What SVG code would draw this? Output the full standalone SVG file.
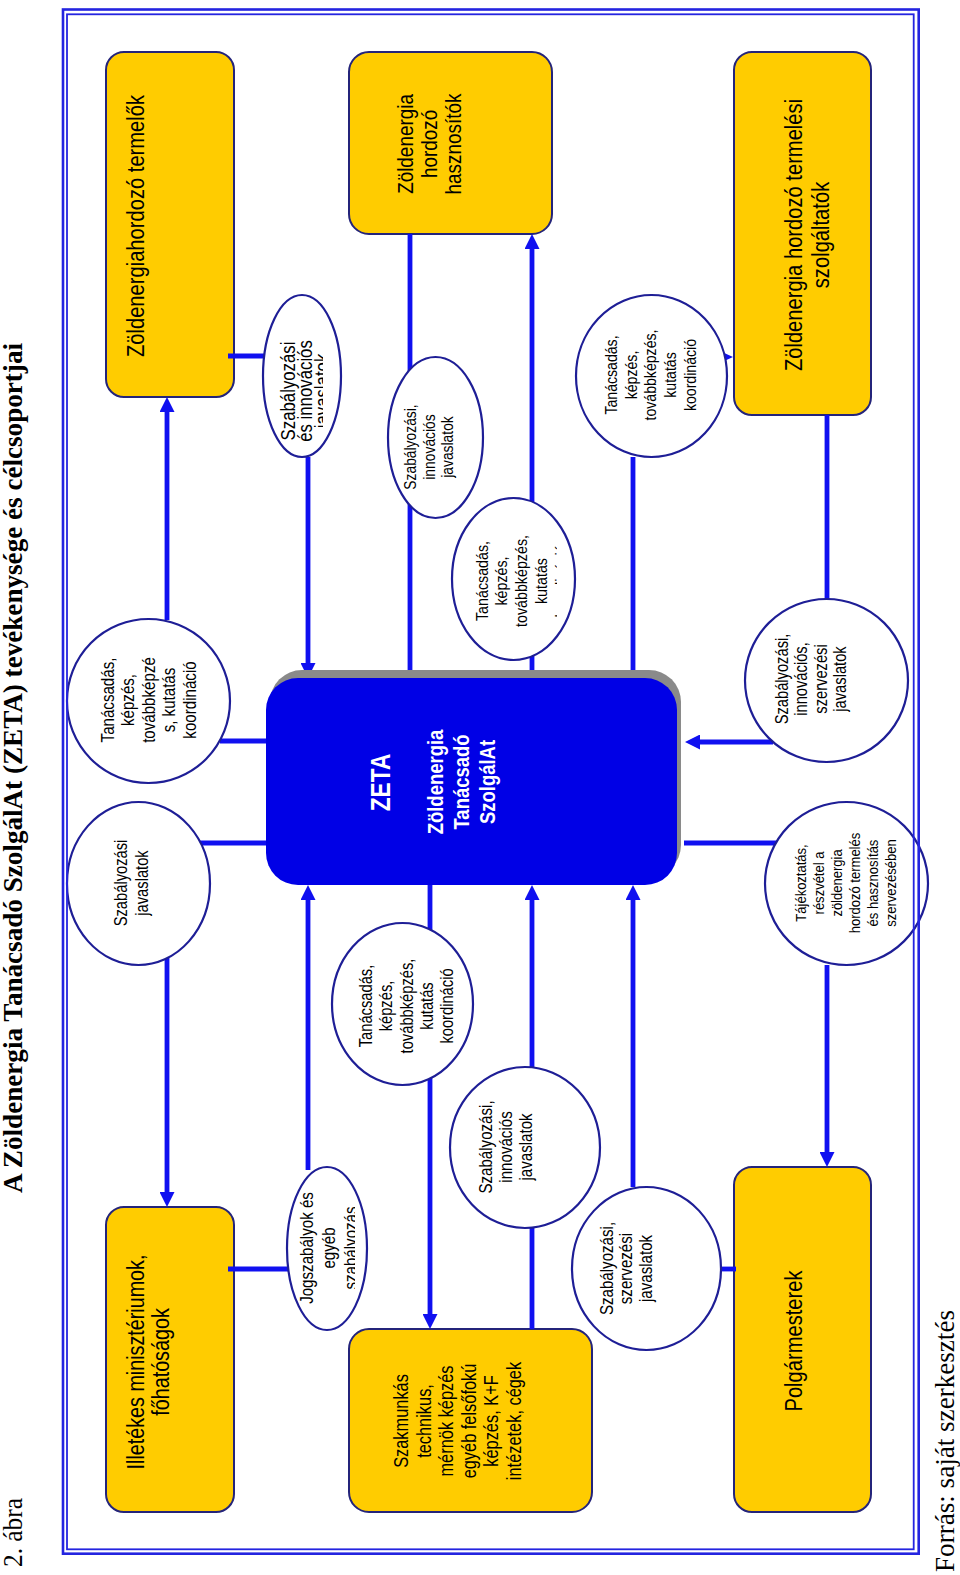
<svg xmlns="http://www.w3.org/2000/svg" width="960" height="1575" viewBox="0 0 960 1575">
<style>
.box{fill:#FFCC00;stroke:#24247A;stroke-width:2}
.ell{fill:#FFFFFF;stroke:#1E1E96;stroke-width:2.2}
.ln{stroke:#1010F0;stroke-width:4.8;fill:none}
.arr{marker-end:url(#ah)}
.t{font-family:"Liberation Sans",Arial,sans-serif;fill:#000;text-anchor:middle}
.tw{font-family:"Liberation Sans",Arial,sans-serif;fill:#FFFFFF;font-weight:bold;text-anchor:middle}
.ser{font-family:"Liberation Serif","Times New Roman",serif;fill:#000}
.frame{fill:none;stroke:#2424E0}
</style>
<defs>
<marker id="ah" markerUnits="userSpaceOnUse" markerWidth="15" markerHeight="15" viewBox="0 0 15 15" refX="0" refY="7.5" orient="auto">
<path d="M0,0 L15,7.5 L0,15 z" fill="#1010F0"/>
</marker>
<clipPath id="cE1"><rect x="0" y="280" width="323" height="200"/></clipPath>
<clipPath id="cE4"><rect x="0" y="1150" width="355" height="200"/></clipPath>
<clipPath id="cE12"><rect x="0" y="480" width="557" height="200"/></clipPath>
</defs>
<rect width="960" height="1575" fill="#FFFFFF"/>

<!-- titles -->
<text class="ser" font-size="28" transform="translate(22,1567) rotate(-90)" textLength="69" lengthAdjust="spacingAndGlyphs">2. ábra</text>
<text class="ser" font-size="27.5" font-weight="bold" transform="translate(22,1193) rotate(-90)" textLength="850" lengthAdjust="spacingAndGlyphs">A Zöldenergia Tanácsadó SzolgálAt (ZETA) tevékenysége és célcsoportjai</text>
<text class="ser" font-size="28" transform="translate(954,1572) rotate(-90)" textLength="262" lengthAdjust="spacingAndGlyphs">Forrás: saját szerkesztés</text>

<!-- yellow boxes -->
<g id="box-termelok">
<rect class="box" x="106" y="52" width="128" height="345" rx="18"/>
<g transform="translate(0,226) rotate(-90) scale(0.84,1)"><text class="t" font-size="24"><tspan x="0" y="144">Zöldenergiahordozó termelők</tspan></text></g>
</g>
<g id="box-hasznositok">
<rect class="box" x="349" y="52" width="203" height="182" rx="20"/>
<g transform="translate(0,144) rotate(-90) scale(0.84,1)"><text class="t" font-size="22.5"><tspan x="0" y="413">Zöldenergia</tspan><tspan x="0" y="437">hordozó</tspan><tspan x="0" y="461">hasznosítók</tspan></text></g>
</g>
<g id="box-szolgaltatok">
<rect class="box" x="734" y="52" width="137" height="363" rx="18"/>
<g transform="translate(0,235) rotate(-90) scale(0.84,1)"><text class="t" font-size="24"><tspan x="0" y="802">Zöldenergia hordozó termelési</tspan><tspan x="0" y="829">szolgáltatók</tspan></text></g>
</g>
<g id="box-miniszteriumok">
<rect class="box" x="106" y="1207" width="128" height="305" rx="18"/>
<g transform="translate(0,1362) rotate(-90) scale(0.84,1)"><text class="t" font-size="23.5"><tspan x="0" y="144">Illetékes minisztériumok,</tspan><tspan x="0" y="169">főhatóságok</tspan></text></g>
</g>
<g id="box-kepzes">
<rect class="box" x="349" y="1329" width="243" height="183" rx="20"/>
<g transform="translate(0,1421) rotate(-90) scale(0.84,1)"><text class="t" font-size="19.5"><tspan x="0" y="408">Szakmunkás</tspan><tspan x="0" y="430.6">technikus,</tspan><tspan x="0" y="453.2">mérnök képzés</tspan><tspan x="0" y="475.8">egyéb felsőfokú</tspan><tspan x="0" y="498.4">képzés, K+F</tspan><tspan x="0" y="521">intézetek, cégek</tspan></text></g>
</g>
<g id="box-polgarmesterek">
<rect class="box" x="734" y="1167" width="137" height="345" rx="18"/>
<g transform="translate(0,1341) rotate(-90) scale(0.84,1)"><text class="t" font-size="24"><tspan x="0" y="802">Polgármesterek</tspan></text></g>
</g>

<!-- connectors -->
<g id="connectors">
<path class="ln" d="M228,356 L264,356"/>
<path class="ln arr" d="M308,457 L308,663"/>
<path class="ln arr" d="M167,620 L167,412"/>
<path class="ln" d="M220,741 L266,741"/>
<path class="ln" d="M200,843 L266,843"/>
<path class="ln arr" d="M167,958 L167,1192"/>
<path class="ln" d="M228,1269 L288,1269"/>
<path class="ln arr" d="M308,1170 L308,900"/>
<path class="ln arr" d="M430,885 L430,1314"/>
<path class="ln arr" d="M532,1329 L532,900"/>
<path class="ln arr" d="M633,1187 L633,900"/>
<path class="ln" d="M720,1269 L736,1269"/>
<path class="ln" d="M684,843 L778,843"/>
<path class="ln arr" d="M827,965 L827,1152"/>
<path class="ln arr" d="M773,742 L700,742"/>
<path class="ln" d="M827,415 L827,600"/>
<path class="ln" d="M633,457 L633,678"/>
<path class="ln" d="M410,234 L410,678"/>
<path class="ln arr" d="M532,678 L532,249"/>
<polygon points="721,351.5 733,357 721,362.5" fill="#1010F0"/>
</g>

<!-- ZETA -->
<g id="zeta">
<rect x="270" y="670" width="411" height="207" rx="32" fill="#8A8A8A"/>
<rect x="266" y="678" width="411" height="207" rx="32" fill="#0000E6"/>
<g transform="translate(0,782.5) rotate(-90) scale(0.84,1)"><text class="tw" font-size="27"><tspan x="0" y="390">ZETA</tspan></text></g>
<g transform="translate(0,782) rotate(-90) scale(0.84,1)"><text class="tw" font-size="22"><tspan x="0" y="443">Zöldenergia</tspan><tspan x="0" y="469">Tanácsadó</tspan><tspan x="0" y="495">SzolgálAt</tspan></text></g>
</g>

<!-- ellipses -->
<g id="e1">
<ellipse class="ell" cx="302" cy="376" rx="39" ry="81"/>
<g clip-path="url(#cE1)"><g transform="translate(0,391) rotate(-90) scale(0.84,1)"><text class="t" font-size="20"><tspan x="0" y="295">Szabályozási</tspan><tspan x="0" y="312">és innovációs</tspan><tspan x="0" y="329">javaslatok</tspan></text></g></g>
</g>
<g id="e2">
<ellipse class="ell" cx="148.5" cy="701" rx="81.5" ry="82"/>
<g transform="translate(0,700) rotate(-90) scale(0.84,1)"><text class="t" font-size="18"><tspan x="0" y="114">Tanácsadás,</tspan><tspan x="0" y="134.5">képzés,</tspan><tspan x="0" y="155">továbbképzé</tspan><tspan x="0" y="175.5">s, kutatás</tspan><tspan x="0" y="196">koordináció</tspan></text></g>
</g>
<g id="e3">
<ellipse class="ell" cx="138.5" cy="883.5" rx="71.5" ry="81.5"/>
<g transform="translate(0,883) rotate(-90) scale(0.84,1)"><text class="t" font-size="17.5"><tspan x="0" y="127">Szabályozási</tspan><tspan x="0" y="148">javaslatok</tspan></text></g>
</g>
<g id="e4">
<ellipse class="ell" cx="327" cy="1248.5" rx="40" ry="81.5"/>
<g clip-path="url(#cE4)"><g transform="translate(0,1248) rotate(-90) scale(0.84,1)"><text class="t" font-size="18"><tspan x="0" y="313">Jogszabályok és</tspan><tspan x="0" y="335">egyéb</tspan><tspan x="0" y="357">szabályozás</tspan></text></g></g>
</g>
<g id="e5">
<ellipse class="ell" cx="402.5" cy="1004" rx="70.5" ry="81"/>
<g transform="translate(0,1006) rotate(-90) scale(0.84,1)"><text class="t" font-size="17.5"><tspan x="0" y="372">Tanácsadás,</tspan><tspan x="0" y="392.3">képzés,</tspan><tspan x="0" y="412.6">továbbképzés,</tspan><tspan x="0" y="432.9">kutatás</tspan><tspan x="0" y="453.2">koordináció</tspan></text></g>
</g>
<g id="e6">
<ellipse class="ell" cx="525" cy="1147.5" rx="75" ry="80.5"/>
<g transform="translate(0,1147) rotate(-90) scale(0.84,1)"><text class="t" font-size="18"><tspan x="0" y="492">Szabályozási,</tspan><tspan x="0" y="512">innovációs</tspan><tspan x="0" y="532">javaslatok</tspan></text></g>
</g>
<g id="e7">
<ellipse class="ell" cx="646.5" cy="1268.5" rx="74.5" ry="81.5"/>
<g transform="translate(0,1268.5) rotate(-90) scale(0.84,1)"><text class="t" font-size="18"><tspan x="0" y="613">Szabályozási,</tspan><tspan x="0" y="632.5">szervezési</tspan><tspan x="0" y="652">javaslatok</tspan></text></g>
</g>
<g id="e8">
<ellipse class="ell" cx="846.5" cy="883.5" rx="81.5" ry="81.5"/>
<g transform="translate(0,883) rotate(-90) scale(0.84,1)"><text class="t" font-size="15.5"><tspan x="0" y="806">Tájékoztatás,</tspan><tspan x="0" y="824">részvétel a</tspan><tspan x="0" y="842">zöldenergia</tspan><tspan x="0" y="860">hordozó termelés</tspan><tspan x="0" y="878">és hasznosítás</tspan><tspan x="0" y="896">szervezésében</tspan></text></g>
</g>
<g id="e9">
<ellipse class="ell" cx="826.5" cy="680.5" rx="81.5" ry="81.5"/>
<g transform="translate(0,679) rotate(-90) scale(0.84,1)"><text class="t" font-size="17.5"><tspan x="0" y="788">Szabályozási,</tspan><tspan x="0" y="807.5">innovációs,</tspan><tspan x="0" y="827">szervezési</tspan><tspan x="0" y="846.5">javaslatok</tspan></text></g>
</g>
<g id="e10">
<ellipse class="ell" cx="651.5" cy="376" rx="75.5" ry="81"/>
<g transform="translate(0,375) rotate(-90) scale(0.84,1)"><text class="t" font-size="16.8"><tspan x="0" y="617">Tanácsadás,</tspan><tspan x="0" y="637">képzés,</tspan><tspan x="0" y="656.5">továbbképzés,</tspan><tspan x="0" y="676">kutatás</tspan><tspan x="0" y="696">koordináció</tspan></text></g>
</g>
<g id="e11">
<ellipse class="ell" cx="435.5" cy="437.5" rx="47.5" ry="80.5"/>
<g transform="translate(0,447) rotate(-90) scale(0.84,1)"><text class="t" font-size="16.5"><tspan x="0" y="416">Szabályozási,</tspan><tspan x="0" y="435">innovációs</tspan><tspan x="0" y="453.5">javaslatok</tspan></text></g>
</g>
<g id="e12">
<ellipse class="ell" cx="513.5" cy="579" rx="61.5" ry="81"/>
<g clip-path="url(#cE12)"><g transform="translate(0,581) rotate(-90) scale(0.84,1)"><text class="t" font-size="17"><tspan x="0" y="488">Tanácsadás,</tspan><tspan x="0" y="507.5">képzés,</tspan><tspan x="0" y="527.5">továbbképzés,</tspan><tspan x="0" y="547">kutatás</tspan><tspan x="0" y="567">koordináció</tspan></text></g></g>
</g>

<!-- frame -->
<g id="frame">
<rect class="frame" x="63" y="9.5" width="855.7" height="1544.2" stroke-width="2.6"/>
<rect class="frame" x="67" y="14.3" width="846.7" height="1535" stroke-width="1.8"/>
</g>
</svg>
